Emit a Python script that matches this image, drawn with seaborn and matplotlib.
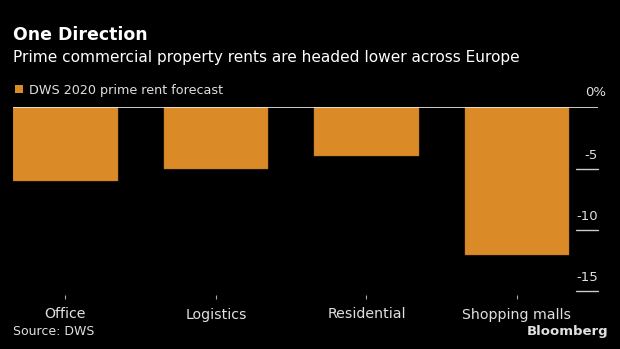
import matplotlib
matplotlib.use("Agg")
import matplotlib.pyplot as plt
import matplotlib.transforms as mtransforms
from matplotlib.patches import Patch
import seaborn as sns
import pandas as pd

categories = ["Office", "Logistics", "Residential", "Shopping malls"]
values = [-6.0, -5.0, -4.0, -12.0]
series_name = "DWS 2020 prime rent forecast"
ytick_values = [0, -5, -10, -15]
ytick_labels = ["0%", "-5", "-10", "-15"]

df = pd.DataFrame({"category": categories, "value": values})

sns.set_theme(style="dark")
plt.rcParams["font.family"] = ["DejaVu Sans"]

BG = "#000000"
BAR = "#DB8A28"
TXT = "#e0e0e0"

fig = plt.figure(figsize=(6.2, 3.49), dpi=100, facecolor=BG)
ax = fig.add_axes([13 / 620, 54 / 349, 585 / 620, 187.7 / 349])
ax.set_facecolor(BG)

sns.barplot(data=df, x="category", y="value", color=BAR, width=0.695,
            saturation=1, ax=ax, edgecolor="#b06c20", linewidth=0.3)

ax.set_xlim(-0.348, 3.539)
ax.set_ylim(-15.3, 0)
for s in ax.spines.values():
    s.set_visible(False)
ax.grid(False)
ax.set_xlabel("")
ax.set_ylabel("")

# zero line
ax.axhline(0, color="#eeeeee", lw=1.2, zorder=5)

# x ticks
ax.tick_params(axis="x", direction="out", length=3, width=0.8, color="#aaaaaa",
               colors=TXT, labelsize=10.2, pad=6, bottom=True)
for lbl in ax.get_xticklabels():
    lbl.set_color(TXT)

# y ticks: Bloomberg style, labels above short lines on the right
ax.set_yticks(ytick_values)
ax.set_yticklabels([])
ax.tick_params(axis="y", left=False, right=False, labelleft=False)
trans = mtransforms.blended_transform_factory(ax.transAxes, ax.transData)
for v, lab in zip(ytick_values, ytick_labels):
    if v != 0:
        ax.plot([1 - 22 / 585, 1.0], [v, v], transform=trans, color="#cccccc",
                lw=1.0, clip_on=False)
        ax.text(1.0, v, lab, transform=trans + mtransforms.ScaledTranslation(0, 5 / 72, fig.dpi_scale_trans),
                ha="right", va="bottom", color=TXT, fontsize=9.5)
    else:
        ax.text(1.0 + 8 / 585, v, lab, transform=trans + mtransforms.ScaledTranslation(0, 6 / 72, fig.dpi_scale_trans),
                ha="right", va="bottom", color=TXT, fontsize=9.5)

# titles
fig.text(13 / 620, 1 - 39.7 / 349, "One Direction", color="white", fontsize=12.5,
         fontweight="bold", ha="left", va="baseline")
fig.text(13 / 620, 1 - 62 / 349, "Prime commercial property rents are headed lower across Europe",
         color="white", fontsize=11.05, ha="left", va="baseline")

# legend
handles = [Patch(facecolor=BAR, edgecolor="none", label=series_name)]
fig.legend(handles=handles, loc="upper left", bbox_to_anchor=(11 / 620, 1 - 80 / 349),
           frameon=False, handlelength=0.6, handleheight=0.6, handletextpad=0.5,
           fontsize=9.2, labelcolor=TXT, borderaxespad=0, borderpad=0.3)

fig.text(13 / 620, 1 - 335 / 349, "Source: DWS", color=TXT, fontsize=9,
         ha="left", va="baseline")
fig.text(608 / 620, 1 - 335 / 349, "Bloomberg", color=TXT, fontsize=9.5,
         fontweight="bold", ha="right", va="baseline")

fig.savefig("out.png", dpi=100, facecolor=BG)
